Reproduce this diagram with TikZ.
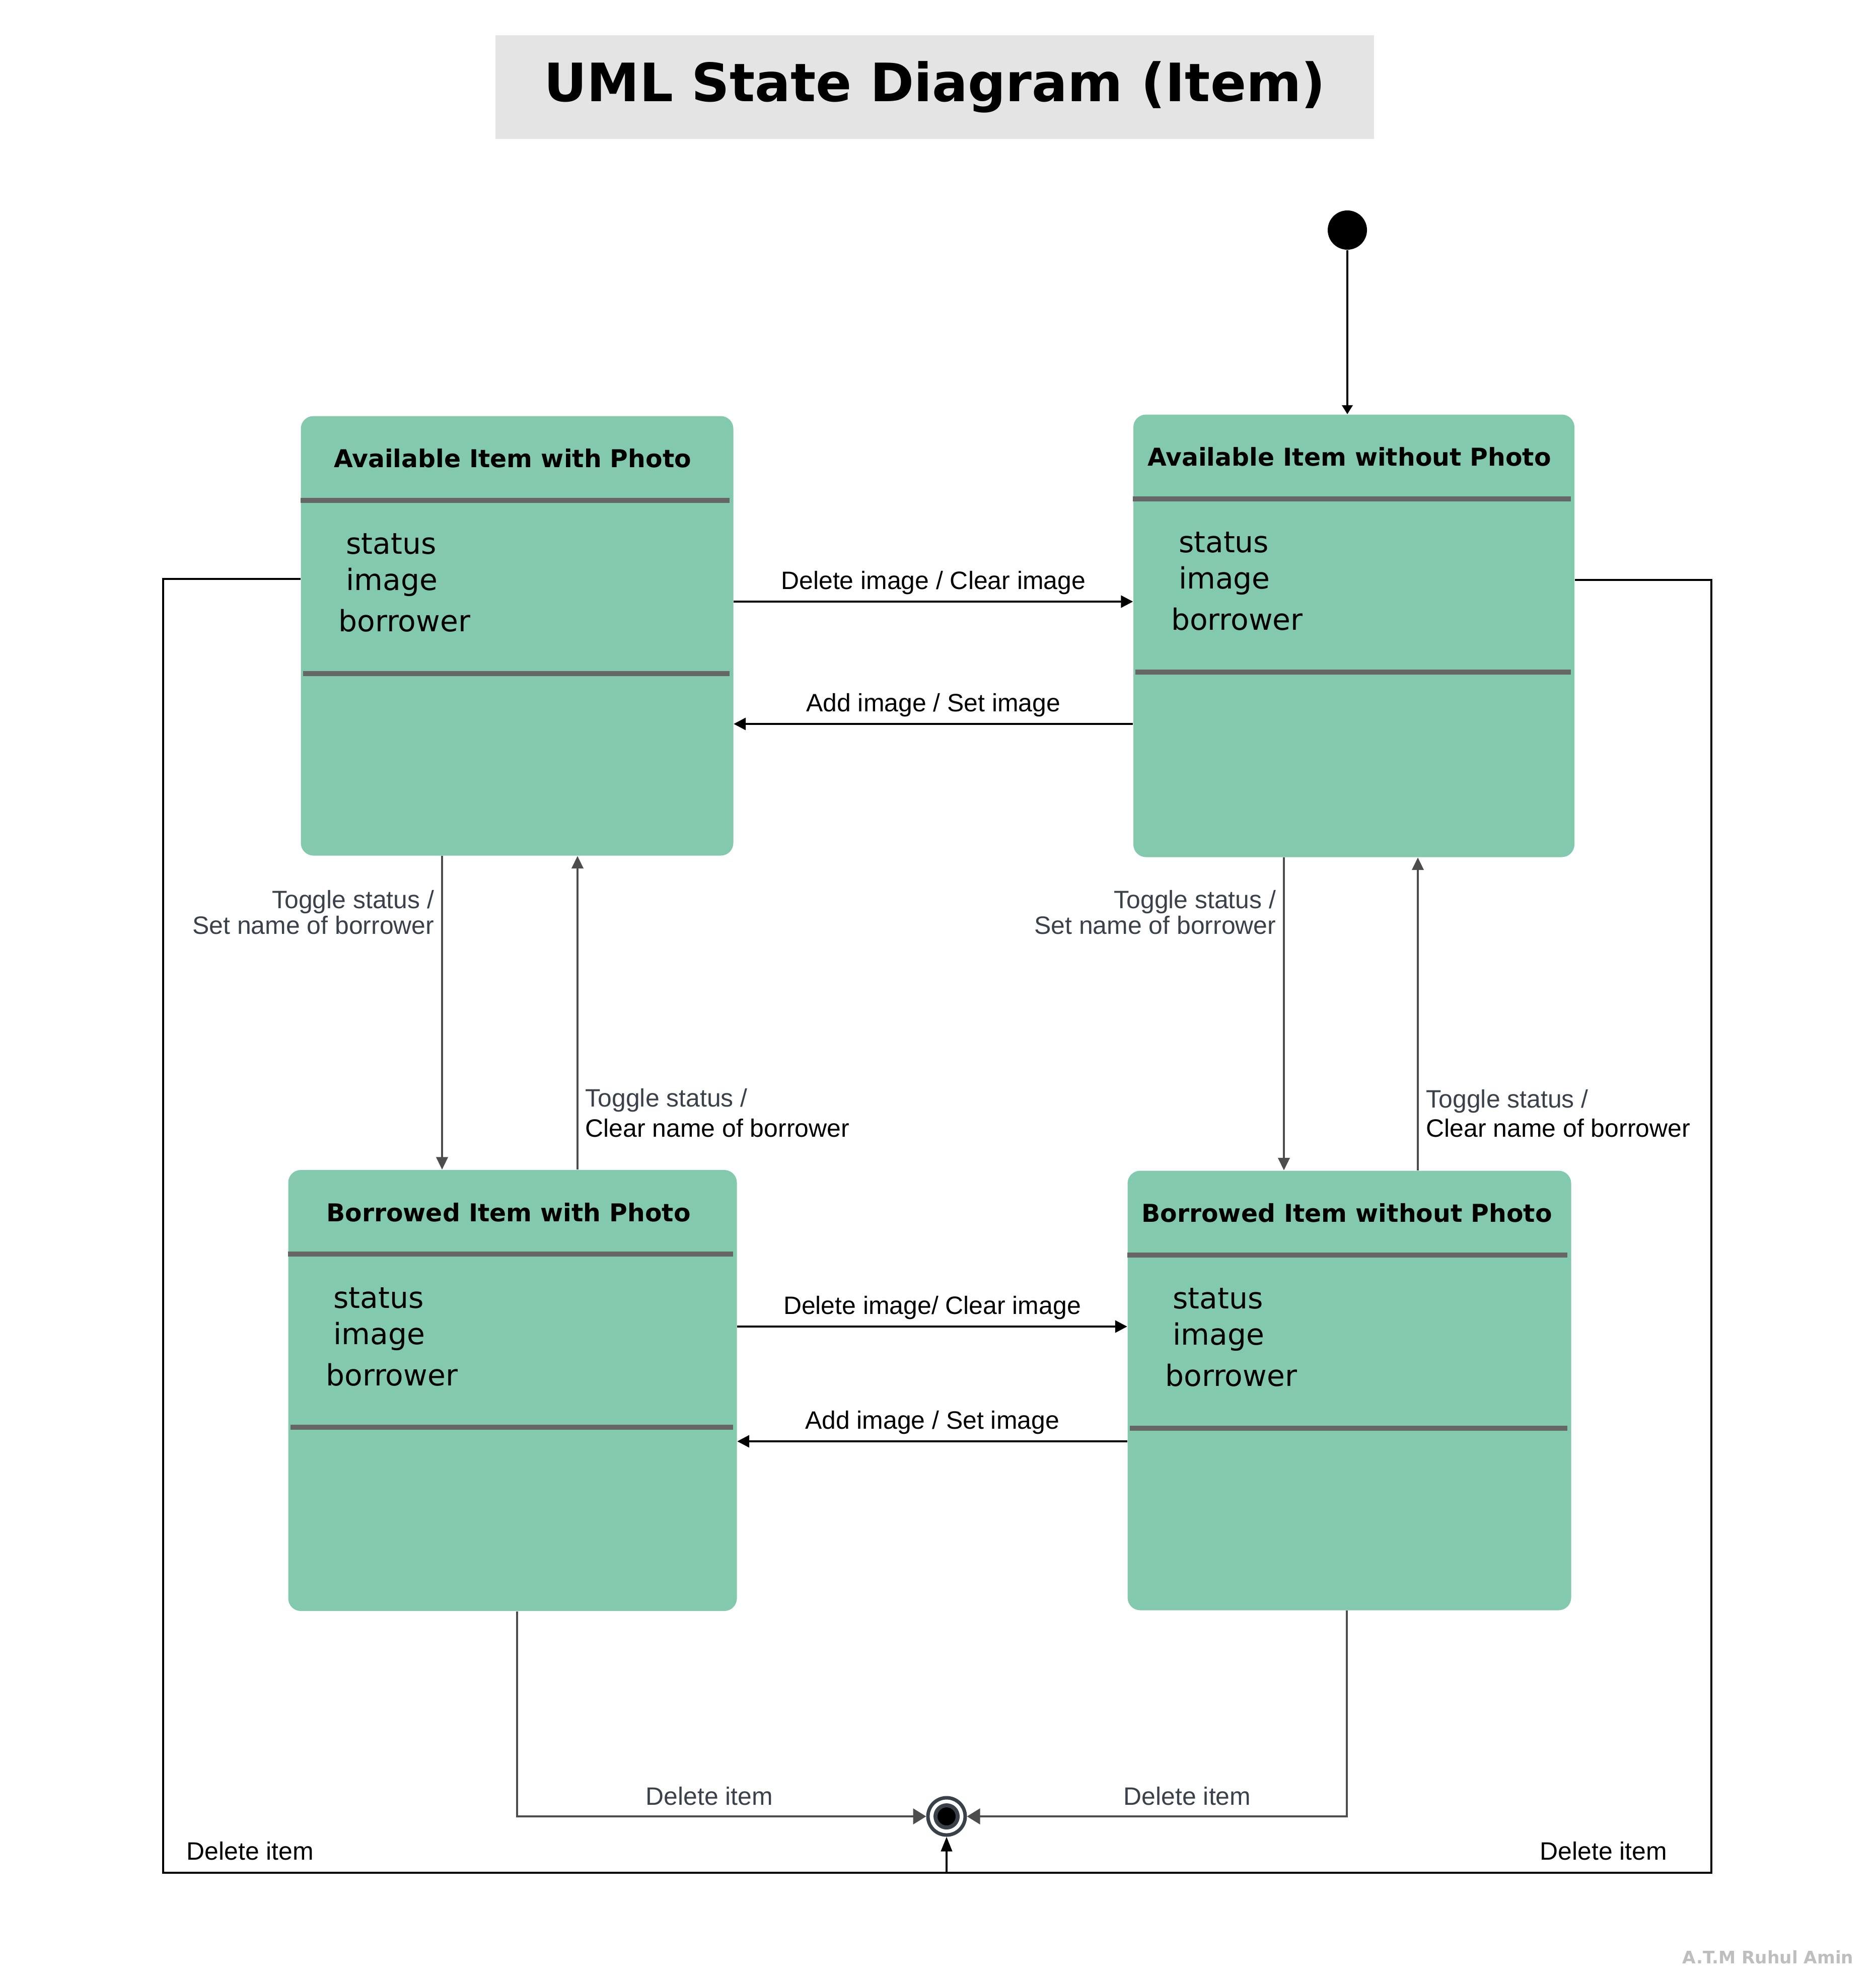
\documentclass[tikz,border=0pt]{standalone}
\usepackage{fontspec}
\setmainfont{DejaVu Sans}
\newfontfamily\labelfont{Liberation Sans}
\usetikzlibrary{arrows.meta}
\definecolor{statefill}{RGB}{130, 201, 174}
\definecolor{sepgray}{RGB}{102, 102, 102}
\definecolor{edgegray}{RGB}{77, 77, 77}
\definecolor{slate}{RGB}{58, 65, 74}
\definecolor{titlebg}{RGB}{228, 228, 228}
\definecolor{markgray}{RGB}{190, 190, 190}

\tikzset{
  statebox/.style={rectangle, rounded corners=0.25cm, fill=statefill, inner sep=0pt},
  statename/.style={anchor=base, font=\bfseries\fontsize{13.9}{16}\selectfont},
  attr/.style={anchor=base west, inner sep=0pt, font=\fontsize{16.6}{20}\selectfont},
  sepline/.style={sepgray, line width=2.8pt},
  trans/.style={-{Triangle[length=0.24cm, width=0.24cm]}, line width=1.2pt, black},
  toggle/.style={-{Triangle[length=0.25cm, width=0.23cm]}, line width=1.2pt, edgegray},
  toend/.style={-{Triangle[length=0.26cm, width=0.31cm]}, line width=1.2pt, edgegray},
  lbl/.style={font=\labelfont\fontsize{14.2}{14.5}\selectfont},
}

\begin{document}
\begin{tikzpicture}
\useasboundingbox (0,0) rectangle (37.25,-39.35);

% title
\node[fill=titlebg, minimum width=17.45cm, minimum height=2.06cm, font=\bfseries\fontsize{29.9}{36}\selectfont] (title) at (18.565,-1.73) {UML State Diagram (Item)};

% states
\node[statebox, minimum width=8.59cm, minimum height=8.73cm] (avp) at (10.27,-12.63) {};
\node[statebox, minimum width=8.76cm, minimum height=8.79cm] (avn) at (26.89,-12.63) {};
\node[statebox, minimum width=8.91cm, minimum height=8.76cm] (bwp) at (10.18,-27.62) {};
\node[statebox, minimum width=8.81cm, minimum height=8.73cm] (bwn) at (26.80,-27.62) {};

\node[statename] (avp-name) at ([xshift=-0.09cm, yshift=-1.03cm]avp.north) {Available Item with Photo};
\node[statename] (avn-name) at ([xshift=-0.09cm, yshift=-1.03cm]avn.north) {Available Item without Photo};
\node[statename] (bwp-name) at ([xshift=-0.08cm, yshift=-1.03cm]bwp.north) {Borrowed Item with Photo};
\node[statename] (bwn-name) at ([xshift=-0.05cm, yshift=-1.03cm]bwn.north) {Borrowed Item without Photo};

\foreach \s in {avp,avn,bwp,bwn}{
  \draw[sepline] ([yshift=-1.68cm]\s.north west) -- ([xshift=-0.08cm, yshift=-1.68cm]\s.north east);
  \draw[sepline] ([xshift=0.05cm, yshift=-5.12cm]\s.north west) -- ([xshift=-0.08cm, yshift=-5.12cm]\s.north east);
  \node[attr] (\s-status) at ([xshift=0.90cm, yshift=-2.75cm]\s.north west) {status};
  \node[attr] (\s-image) at ([xshift=0.90cm, yshift=-3.47cm]\s.north west) {image};
  \node[attr] (\s-borrower) at ([xshift=0.75cm, yshift=-4.29cm]\s.north west) {borrower};
}

% initial and final
\node[circle, fill=black, minimum size=0.78cm, inner sep=0pt] (init) at (26.76,-4.57) {};
\draw[-{Triangle[length=0.18cm, width=0.21cm]}, line width=1.2pt] (init) -- (init |- avn.north);

\node[circle, draw=slate, line width=0.07cm, fill=white, minimum size=0.74cm, inner sep=0pt] (final) at (18.80,-36.08) {};
\node[circle, draw=slate, line width=0.08cm, fill=black, minimum size=0.44cm, inner sep=0pt] (final-core) at (final) {};

% image transitions
\draw[trans] ([yshift=0.68cm]avp.east) -- ([yshift=0.68cm]avn.west) node[lbl, midway, above] (del-top) {Delete image / Clear image};
\draw[trans] ([yshift=-1.75cm]avn.west) -- ([yshift=-1.75cm]avp.east) node[lbl, midway, above] (add-top) {Add image / Set image};
\draw[trans] ([yshift=1.27cm]bwp.east) -- ([yshift=1.27cm]bwn.west) node[lbl, midway, above] (del-bot) {Delete image/ Clear image};
\draw[trans] ([yshift=-1.01cm]bwn.west) -- ([yshift=-1.01cm]bwp.east) node[lbl, midway, above] (add-bot) {Add image / Set image};

% status transitions
\coordinate (ac-top) at ([xshift=-1.49cm]avp.south);
\coordinate (ca-bot) at ([xshift=1.29cm]bwp.north);
\coordinate (bd-top) at ([xshift=-1.39cm]avn.south);
\coordinate (db-bot) at ([xshift=1.36cm]bwn.north);
\draw[toggle] (ac-top) -- (ac-top |- bwp.north);
\draw[toggle] (ca-bot) -- (ca-bot |- avp.south);
\draw[toggle] (bd-top) -- (bd-top |- bwn.north);
\draw[toggle] (db-bot) -- (db-bot |- avn.south);

\node[lbl, text=slate, align=right, anchor=north east, inner sep=0pt] (ac-lbl) at (8.63,-17.68) {Toggle status /\\Set name of borrower};
\node[lbl, text=slate, align=right, anchor=north east, inner sep=0pt] (bd-lbl) at (25.35,-17.68) {Toggle status /\\Set name of borrower};
\node[lbl, text=slate, anchor=base west, inner sep=0pt] (ca-lbl) at (11.62,-21.98) {Toggle status /};
\node[lbl, anchor=base west, inner sep=0pt] (ca-act) at (11.62,-22.58) {Clear name of borrower};
\node[lbl, text=slate, anchor=base west, inner sep=0pt] (db-lbl) at (28.32,-22.00) {Toggle status /};
\node[lbl, anchor=base west, inner sep=0pt] (db-act) at (28.32,-22.58) {Clear name of borrower};

% delete item
\coordinate (bwp-out) at ([xshift=0.09cm]bwp.south);
\coordinate (bwn-out) at ([xshift=-0.05cm]bwn.south);
\draw[toend] (bwp-out) |- (final.west) node[lbl, text=slate, pos=0.735, above=0.08cm] (del-bwp) {Delete item};
\draw[toend] (bwn-out) |- (final.east) node[lbl, text=slate, pos=0.71, above=0.08cm] (del-bwn) {Delete item};

\coordinate (loopsw) at (3.24,-37.20);
\coordinate (loopse) at (33.99,-37.20);
\draw[line width=1.2pt] ([yshift=1.13cm]avp.west) -| (loopsw) -- (loopse) |- ([yshift=1.11cm]avn.east);
\draw[-{Triangle[length=0.29cm, width=0.22cm]}, line width=1.2pt] (final |- loopsw) -- (final.south);
\node[lbl] (del-avp) at (4.97,-36.77) {Delete item};
\node[lbl] (del-avn) at (31.85,-36.77) {Delete item};

\node[font=\bfseries\fontsize{9.76}{12}\selectfont, text=markgray, anchor=east, inner sep=0pt] (credit) at (36.82,-38.88) {A.T.M Ruhul Amin};
\end{tikzpicture}
\end{document}
